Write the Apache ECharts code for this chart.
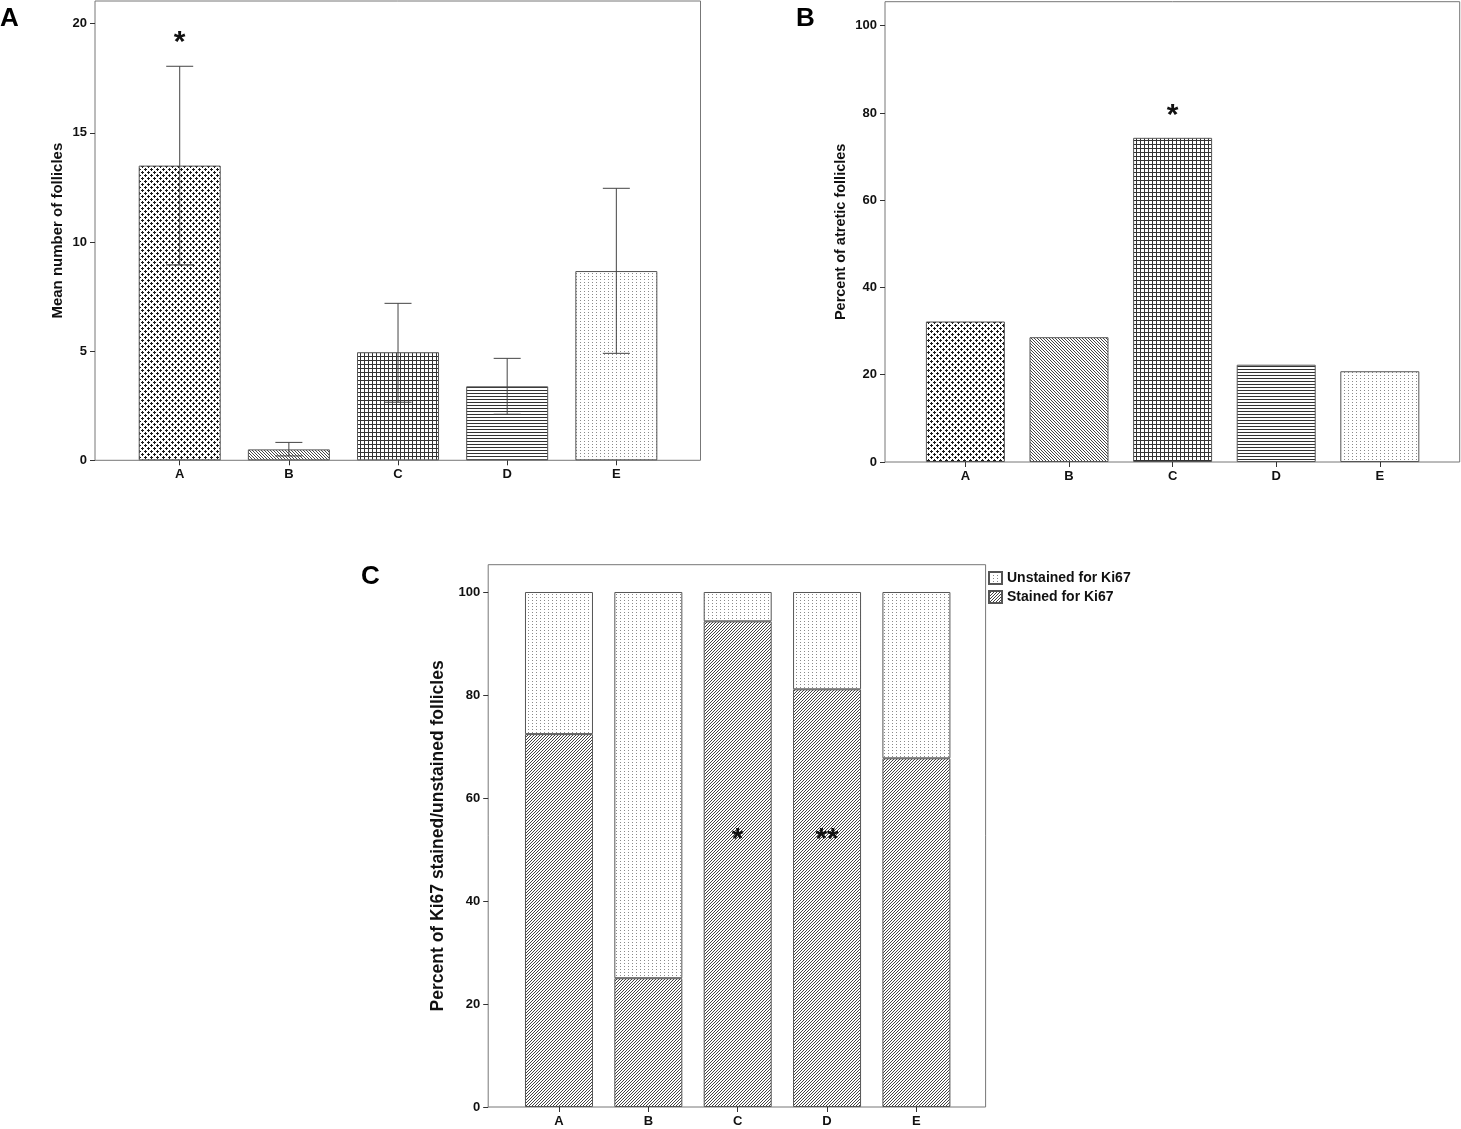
<!DOCTYPE html>
<html>
<head>
<meta charset="utf-8">
<title>Follicles</title>
<script src="https://cdn.jsdelivr.net/npm/echarts@6/dist/echarts.min.js"></script>
<style>
  html, body { margin: 0; padding: 0; background: #fff; }
  #chart { width: 1461px; height: 1129px; }
</style>
</head>
<body>
<div id="chart"></div>
<script>
// categories shared by all three panels
var cats = ['A', 'B', 'C', 'D', 'E'];
var catIdx = [0, 1, 2, 3, 4];

// panel A: mean number of follicles with error bars
var meanFollicles = [13.5, 0.5, 4.95, 3.39, 8.67];
var errHighA = [18.05, 0.82, 7.19, 4.67, 12.46];
var errLowA = [8.95, 0.2, 2.66, 2.11, 4.9];
var ticksA = [0, 5, 10, 15, 20];

// panel B: percent of atretic follicles
var atretic = [32.2, 28.6, 74.3, 22.3, 20.8];
var ticksB = [0, 20, 40, 60, 80, 100];

// panel C: Ki67 stained / unstained (stacked to 100)
var stained = [72.4, 25.0, 94.3, 81.1, 67.7];
var unstained = [27.6, 75.0, 5.7, 18.9, 32.3];
var ticksC = [0, 20, 40, 60, 80, 100];

// significance marks [category index, y position, text]
var starsA = [[0, 19.3, '*']];
var starsB = [[2, 80.3, '*']];
var starsC = [[2, 52.7, '*'], [3, 52.7, '**']];

var FONT = "'Liberation Sans', Arial, sans-serif";

// small canvas tiles used as hatch fills
function tile(w, h, color, cells) {
    var c = document.createElement('canvas');
    c.width = w; c.height = h;
    var ctx = c.getContext('2d');
    ctx.fillStyle = '#fff';
    ctx.fillRect(0, 0, w, h);
    ctx.fillStyle = color;
    cells.forEach(function (r) { ctx.fillRect(r[0], r[1], r[2] || 1, r[3] || 1); });
    return { image: c, repeat: 'repeat' };
}

var patCross = tile(6, 6, '#1a1a1a', [[1, 0, 1, 3], [0, 1, 3, 1], [4, 3, 1, 3], [3, 4, 3, 1]]);
var patBack = tile(3, 3, '#444', [[0, 0], [1, 1], [2, 2]]);
var patGrid = tile(4, 4, '#333', [[0, 0, 4, 1], [0, 0, 1, 4]]);
var patHoriz = tile(4, 3, '#333', [[0, 0, 4, 1]]);
var patDots = tile(4, 3, '#8a8a8a', [[0, 0]]);
var patFwd = tile(3, 3, '#444', [[2, 0], [1, 1], [0, 2]]);
var groupPats = [patCross, patBack, patGrid, patHoriz, patDots];

var labelStyle = { fontFamily: FONT, fontWeight: 'bold', fontSize: 13, color: '#111' };
var tickStyle = { color: '#333', width: 1 };

function xAxisFor(g, min, max) {
    return {
        gridIndex: g, type: 'value', min: min, max: max,
        axisLine: { show: false, onZero: false }, splitLine: { show: false },
        axisTick: { show: true, customValues: catIdx, length: 5, lineStyle: tickStyle },
        axisLabel: Object.assign({
            customValues: catIdx, margin: 8,
            formatter: function (v) { return cats[Math.round(v)]; }
        }, labelStyle)
    };
}

function yAxisFor(g, max, ticks, name, gap, nameSize) {
    return {
        gridIndex: g, type: 'value', min: 0, max: max,
        axisLine: { show: false, onZero: false }, splitLine: { show: false },
        axisTick: { show: true, customValues: ticks, length: 5, lineStyle: tickStyle },
        axisLabel: Object.assign({ customValues: ticks, margin: 8 }, labelStyle),
        name: name, nameLocation: 'middle', nameGap: gap,
        nameTextStyle: { fontFamily: FONT, fontWeight: 'bold', fontSize: nameSize, color: '#111' }
    };
}

function starSeries(xi, yi, list) {
    return {
        type: 'custom', xAxisIndex: xi, yAxisIndex: yi, z: 10, silent: true,
        data: list.map(function (s) { return [s[0], s[1]]; }),
        renderItem: function (params, api) {
            var p = api.coord([api.value(0), api.value(1)]);
            return {
                type: 'text', x: p[0], y: p[1] + 4,
                style: {
                    text: list[params.dataIndex][2], fill: '#111',
                    fontFamily: FONT, fontWeight: 'bold', fontSize: 30,
                    align: 'center', verticalAlign: 'middle'
                }
            };
        }
    };
}

var chart = echarts.init(document.getElementById('chart'));

var option = {
    animation: false,
    backgroundColor: '#fff',
    grid: [
        { left: 95, top: 1, width: 605.5, height: 459.3, show: true, borderColor: '#777', borderWidth: 1 },
        { left: 885, top: 1.7, width: 574.7, height: 460.3, show: true, borderColor: '#777', borderWidth: 1 },
        { left: 488.2, top: 564.7, width: 497.4, height: 542.3, show: true, borderColor: '#777', borderWidth: 1 },
        // inner band grid of panel C so the two parts stack per category
        { left: 514.3, top: 564.7, width: 446.8, height: 542.3 }
    ],
    xAxis: [
        xAxisFor(0, -0.776, 4.771),
        xAxisFor(1, -0.776, 4.771),
        xAxisFor(2, -0.792, 4.774),
        { gridIndex: 3, type: 'category', data: cats, show: false }
    ],
    yAxis: [
        yAxisFor(0, 21.04, ticksA, 'Mean number of follicles', 30, 15),
        yAxisFor(1, 105.5, ticksB, 'Percent of atretic follicles', 37, 14.5),
        yAxisFor(2, 105.3, ticksC, 'Percent of Ki67 stained/unstained follicles', 41, 17.5),
        { gridIndex: 3, type: 'value', min: 0, max: 105.3, show: false }
    ],
    legend: {
        data: ['Unstained for Ki67', 'Stained for Ki67'],
        orient: 'vertical', left: 983, top: 566,
        itemWidth: 13, itemHeight: 12, itemGap: 5, icon: 'rect',
        selectedMode: false,
        textStyle: { fontFamily: FONT, fontWeight: 'bold', fontSize: 14, color: '#111' }
    },
    graphic: [
        { type: 'text', left: 0, top: 6, style: { text: 'A', fontFamily: FONT, fontWeight: 'bold', fontSize: 26, fill: '#000' } },
        { type: 'text', left: 796, top: 6, style: { text: 'B', fontFamily: FONT, fontWeight: 'bold', fontSize: 26, fill: '#000' } },
        { type: 'text', left: 361, top: 564, style: { text: 'C', fontFamily: FONT, fontWeight: 'bold', fontSize: 26, fill: '#000' } }
    ],
    series: [
        {
            type: 'bar', xAxisIndex: 0, yAxisIndex: 0, barWidth: 82,
            data: meanFollicles.map(function (v, i) {
                return { value: [i, v], itemStyle: { color: groupPats[i] } };
            }),
            itemStyle: { borderColor: '#555', borderWidth: 1 }
        },
        {
            type: 'custom', xAxisIndex: 0, yAxisIndex: 0, z: 5,
            encode: { x: 0, y: [1, 2] },
            data: catIdx.map(function (i) { return [i, errHighA[i], errLowA[i]]; }),
            renderItem: function (params, api) {
                var x = api.value(0);
                var hi = api.coord([x, api.value(1)]);
                var lo = api.coord([x, api.value(2)]);
                var hw = 13.5;
                var st = { stroke: '#444', lineWidth: 1 };
                return {
                    type: 'group', children: [
                        { type: 'line', shape: { x1: hi[0], y1: hi[1], x2: lo[0], y2: lo[1] }, style: st },
                        { type: 'line', shape: { x1: hi[0] - hw, y1: hi[1], x2: hi[0] + hw, y2: hi[1] }, style: st },
                        { type: 'line', shape: { x1: lo[0] - hw, y1: lo[1], x2: lo[0] + hw, y2: lo[1] }, style: st }
                    ]
                };
            }
        },
        starSeries(0, 0, starsA),
        {
            type: 'bar', xAxisIndex: 1, yAxisIndex: 1, barWidth: 79,
            data: atretic.map(function (v, i) {
                return { value: [i, v], itemStyle: { color: groupPats[i] } };
            }),
            itemStyle: { borderColor: '#555', borderWidth: 1 }
        },
        starSeries(1, 1, starsB),
        {
            name: 'Stained for Ki67', type: 'bar', stack: 'ki67', xAxisIndex: 3, yAxisIndex: 3, barWidth: 68,
            data: stained,
            itemStyle: { color: patFwd, borderColor: '#555', borderWidth: 1 }
        },
        {
            name: 'Unstained for Ki67', type: 'bar', stack: 'ki67', xAxisIndex: 3, yAxisIndex: 3, barWidth: 68,
            data: unstained,
            itemStyle: { color: patDots, borderColor: '#555', borderWidth: 1 }
        },
        starSeries(2, 2, starsC)
    ]
};

chart.setOption(option);

window.onresize = function () {
    chart.resize();
};
</script>
</body>
</html>
